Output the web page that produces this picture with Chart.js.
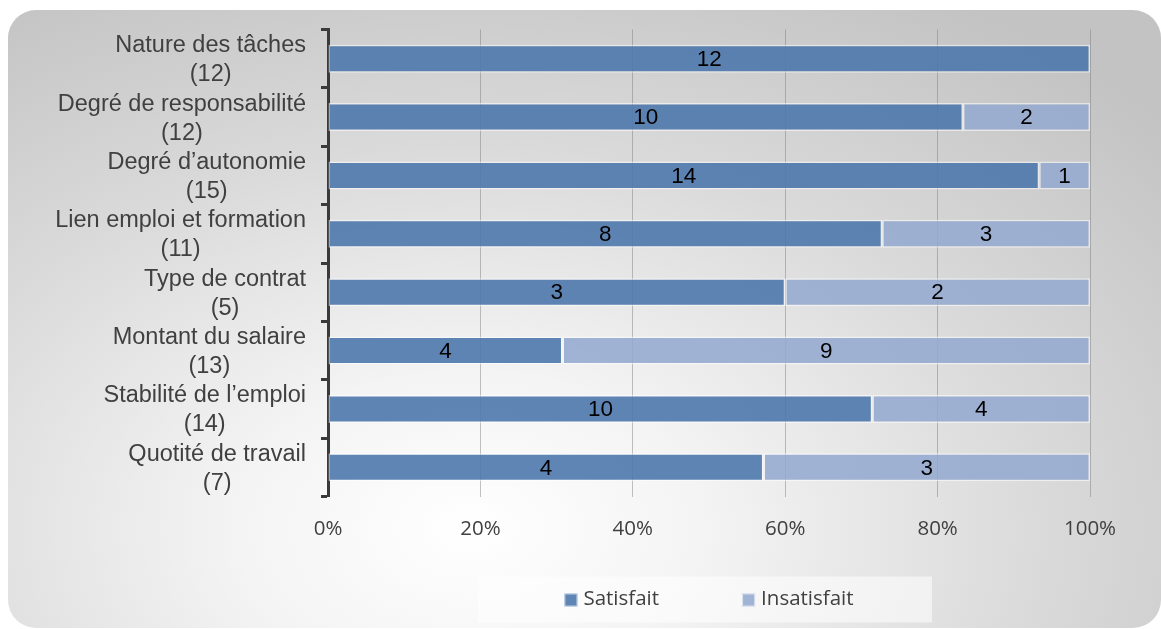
<!DOCTYPE html>
<html>
<head>
<meta charset="UTF-8">
<script src="https://cdn.jsdelivr.net/npm/chart.js@4.4.1/dist/chart.umd.min.js"></script>
<style>
    html, body { margin:0; padding:0; background:#fff; }
    #wrap { position:relative; width:1161px; height:629px; overflow:hidden; }
    #panel {
        position:absolute; left:8px; top:10px; width:1153px; height:618px;
        border-radius:28px;
        background: radial-gradient(ellipse 80% 100% at 40% 84%, #ffffff 0%, #f4f4f4 25%, #dadada 62%, #c3c3c3 100%);
    }
    #chart { position:absolute; left:0; top:0; }
</style>
</head>
<body>
<div id="wrap">
    <div id="panel"></div>
    <canvas id="chart" width="1161" height="629"></canvas>
</div>

<script>
    // categories (top to bottom) and counts
    var categories = ["Nature des tâches", "Degré de responsabilité", "Degré d’autonomie", "Lien emploi et formation",
                      "Type de contrat", "Montant du salaire", "Stabilité de l’emploi", "Quotité de travail"];
    var satisfait   = [12, 10, 14, 8, 3, 4, 10, 4];
    var insatisfait = [0, 2, 1, 3, 2, 9, 4, 3];
    var seriesNames = ["Satisfait", "Insatisfait"];
    var xTicks = [0, 20, 40, 60, 80, 100];

    var totals = categories.map(function(c, i) { return satisfait[i] + insatisfait[i]; });
    function pct(arr) {
        return arr.map(function(v, i) { return v / totals[i] * 100; });
    }
    var counts = [satisfait, insatisfait];
    var colors = ['rgba(78,120,172,0.9)', 'rgba(148,170,207,0.88)'];

    var txtColor = '#404040';
    var yFont = '23.5px "Liberation Sans", Arial, sans-serif';
    var valFont = '22.5px "Liberation Sans", Arial, sans-serif';
    var legFont = '20.5px "Open Sans", sans-serif';

    const drawPlugin = {
        id: 'drawPlugin',
        afterDatasetsDraw(chart) {
            var ctx = chart.ctx;
            ctx.save();
            ctx.font = valFont;
            ctx.fillStyle = '#000';
            ctx.textAlign = 'center';
            ctx.textBaseline = 'middle';
            chart.data.datasets.forEach(function(ds, d) {
                chart.getDatasetMeta(d).data.forEach(function(bar, i) {
                    var n = counts[d][i];
                    if (!n) return;
                    var p = bar.getProps(['x', 'y', 'base'], true);
                    ctx.fillText(String(n), (p.x + p.base) / 2, p.y + 1);
                });
            });
            ctx.restore();
        },
        afterDraw(chart) {
            var ctx = chart.ctx;
            var area = chart.chartArea;
            var yScale = chart.scales.y;
            ctx.save();
            // category labels, two lines centred on each other, block right aligned
            ctx.font = yFont;
            ctx.fillStyle = txtColor;
            ctx.textAlign = 'center';
            ctx.textBaseline = 'middle';
            categories.forEach(function(c, i) {
                var cy = yScale.getPixelForValue(i);
                var w = ctx.measureText(c).width;
                var cx = area.left - 22 - w / 2;
                ctx.fillText(c, cx, cy - 13);
                ctx.fillText('(' + totals[i] + ')', cx, cy + 16);
            });

            // legend
            var mid = (area.left + area.right) / 2;
            var boxTop = area.bottom + 80;
            ctx.fillStyle = 'rgba(255,255,255,0.55)';
            ctx.fillRect(mid - 231, boxTop, 454, 46);
            ctx.font = legFont;
            ctx.textAlign = 'left';
            var sq = 13, gap = 6, itemGap = 83;
            var widths = seriesNames.map(function(s) { return ctx.measureText(s).width; });
            var total = sq * 2 + gap * 2 + widths[0] + widths[1] + itemGap;
            var x = mid - total / 2;
            seriesNames.forEach(function(s, d) {
                ctx.fillStyle = colors[d];
                ctx.fillRect(x, boxTop + 17, sq, sq);
                ctx.strokeStyle = 'rgba(255,255,255,0.6)';
                ctx.lineWidth = 1;
                ctx.strokeRect(x + 0.5, boxTop + 17.5, sq - 1, sq - 1);
                ctx.fillStyle = txtColor;
                ctx.fillText(s, x + sq + gap, boxTop + 23);
                x += sq + gap + widths[d] + itemGap;
            });
            ctx.restore();
        }
    };

    new Chart(document.getElementById('chart'), {
        type: 'bar',
        data: {
            labels: categories,
            datasets: [
                {label: seriesNames[0], data: pct(satisfait), backgroundColor: colors[0]},
                {label: seriesNames[1], data: pct(insatisfait), backgroundColor: colors[1]}
            ]
        },
        options: {
            indexAxis: 'y',
            responsive: false,
            animation: false,
            datasets: {
                bar: {
                    categoryPercentage: 1,
                    barPercentage: 0.48,
                    borderColor: 'rgba(255,255,255,0.55)',
                    borderWidth: 1.5,
                    borderSkipped: false
                }
            },
            layout: { padding: { top: 29.5, right: 71, left: 0, bottom: 0 } },
            plugins: {
                legend: { display: false },
                tooltip: { enabled: false }
            },
            scales: {
                x: {
                    stacked: true,
                    min: 0,
                    max: 100,
                    afterFit: function(s) { s.height = 132.5; },
                    afterBuildTicks: function(s) { s.ticks = xTicks.map(function(v) { return {value: v}; }); },
                    ticks: {
                        callback: function(v) { return v + '%'; },
                        color: txtColor,
                        font: { family: '"Open Sans", sans-serif', size: 20.5 },
                        padding: 20,
                        maxRotation: 0
                    },
                    grid: { color: 'rgba(120,120,120,0.45)', lineWidth: 1, drawTicks: false },
                    border: { display: false }
                },
                y: {
                    stacked: true,
                    afterFit: function(s) { s.width = 328; },
                    ticks: { display: false },
                    grid: {
                        drawOnChartArea: false,
                        drawTicks: true,
                        tickLength: 7,
                        tickColor: '#3a3a3a',
                        tickWidth: 3,
                        offset: true
                    },
                    border: { display: true, color: '#3a3a3a', width: 3 }
                }
            }
        },
        plugins: [drawPlugin]
    });
</script>
</body>
</html>
